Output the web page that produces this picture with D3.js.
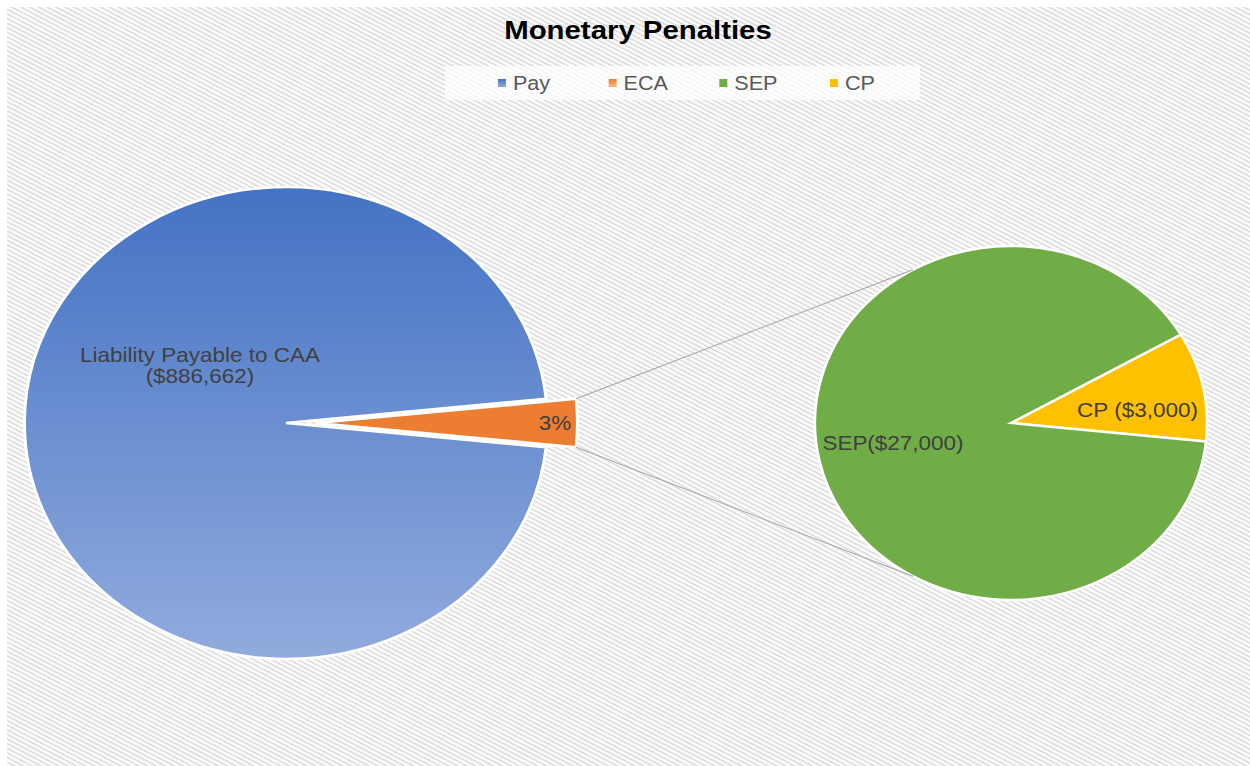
<!DOCTYPE html>
<html><head><meta charset="utf-8">
<script src="https://cdn.jsdelivr.net/npm/d3@7"></script>
<style>html,body{margin:0;padding:0;background:#fff;} svg{display:block;}</style>
</head><body>
<script>
// ---- data ----
const mainCategories = ["Pay", "ECA"];
const mainValues = [886662, 30000];
const mainLabels = ["Liability Payable to CAA\n($886,662)", "3%"];
const subCategories = ["CP", "SEP"];
const subValues = [3000, 27000];
const subLabels = ["CP ($3,000)", "SEP($27,000)"];
const legendLabels = ["Pay", "ECA", "SEP", "CP"];
const title = "Monetary Penalties";

// ---- layout (drawn in an unstretched space, then stretched horizontally) ----
const W = 1250, H = 766, SX = 1.108;
const W0 = W / SX;
const svg = d3.select("body").append("svg")
  .attr("width", W).attr("height", H)
  .attr("viewBox", `0 0 ${W0} ${H}`)
  .attr("preserveAspectRatio", "none");

const defs = svg.append("defs");
const pat = defs.append("pattern").attr("id", "hatch")
  .attr("patternUnits", "userSpaceOnUse").attr("width", 4).attr("height", 4)
  .attr("patternTransform", "rotate(30)");
pat.append("rect").attr("width", 4).attr("height", 4).attr("fill", "#fbfbfb");
pat.append("rect").attr("width", 4).attr("height", 1.6).attr("fill", "#dedede");

const r1 = 236;
const gBlue = defs.append("linearGradient").attr("id", "gBlue")
  .attr("gradientUnits", "userSpaceOnUse").attr("x1", 0).attr("y1", -r1).attr("x2", 0).attr("y2", r1);
gBlue.append("stop").attr("offset", "0%").attr("stop-color", "#4472C4");
gBlue.append("stop").attr("offset", "100%").attr("stop-color", "#91ABDD");

const gLegBlue = defs.append("linearGradient").attr("id", "gLegBlue").attr("x1", 0).attr("y1", 0).attr("x2", 0).attr("y2", 1);
gLegBlue.append("stop").attr("offset", "0%").attr("stop-color", "#4472C4");
gLegBlue.append("stop").attr("offset", "100%").attr("stop-color", "#8FAADC");
const gLegOr = defs.append("linearGradient").attr("id", "gLegOr").attr("x1", 0).attr("y1", 0).attr("x2", 0).attr("y2", 1);
gLegOr.append("stop").attr("offset", "0%").attr("stop-color", "#ED7D31");
gLegOr.append("stop").attr("offset", "100%").attr("stop-color", "#F8B888");

// background
svg.append("rect").attr("x", 7 / SX).attr("y", 7).attr("width", W0).attr("height", H)
  .attr("fill", "url(#hatch)");

const font = "Liberation Sans, Arial, sans-serif";

// title
svg.append("text").attr("x", 638 / SX).attr("y", 39).attr("text-anchor", "middle")
  .attr("font-family", font).attr("font-weight", "bold").attr("font-size", 26.5)
  .attr("fill", "#000").text(title);

// legend
const legColors = { Pay: "url(#gLegBlue)", ECA: "url(#gLegOr)", SEP: "#70AD47", CP: "#FFC000" };
svg.append("rect").attr("x", 445 / SX).attr("y", 66).attr("width", (920 - 445) / SX).attr("height", 34)
  .attr("fill", "#fff").attr("opacity", 0.72);
const legX = d3.scalePoint().domain(legendLabels).range([498 / SX, 830 / SX]);
const leg = svg.append("g").selectAll("g").data(legendLabels).join("g")
  .attr("transform", d => `translate(${legX(d)},0)`);
leg.append("rect").attr("x", 0).attr("y", 79).attr("width", 7.2).attr("height", 8)
  .attr("fill", d => legColors[d]);
leg.append("text").attr("x", 13.5).attr("y", 90).attr("font-family", font).attr("font-size", 19.5)
  .attr("fill", "#595959").text(d => d);

// main pie
const cx1 = 286 / SX, cy = 423;
const ecaAngle = 2 * Math.PI * mainValues[1] / d3.sum(mainValues);
const start1 = Math.PI / 2 + ecaAngle / 2;
const pie1 = d3.pie().sort(null).startAngle(start1).endAngle(start1 + 2 * Math.PI)(mainValues);
const arc1 = d3.arc().innerRadius(0).outerRadius(r1);
const explode = 27;
const main = svg.append("g").attr("transform", `translate(${cx1},${cy})`);
main.selectAll("path").data(pie1).join("path")
  .attr("d", arc1)
  .attr("transform", (d, i) => {
    if (i === 0) return null;
    const a = (d.startAngle + d.endAngle) / 2;
    return `translate(${explode * Math.sin(a)},${-explode * Math.cos(a)})`;
  })
  .attr("fill", (d, i) => i === 0 ? "url(#gBlue)" : "#ED7D31")
  .attr("stroke", "#fff").attr("stroke-width", 2.6).attr("stroke-linejoin", "miter");

// sub pie
const cx2 = 1011 / SX, r2 = 177;
const start2 = 60 * Math.PI / 180;
const pie2 = d3.pie().sort(null).startAngle(start2).endAngle(start2 + 2 * Math.PI)(subValues);
const arc2 = d3.arc().innerRadius(0).outerRadius(r2);
const sub = svg.append("g").attr("transform", `translate(${cx2},${cy})`);
sub.selectAll("path").data(pie2).join("path")
  .attr("d", arc2)
  .attr("fill", (d, i) => i === 0 ? "#FFC000" : "#70AD47")
  .attr("stroke", "#fff").attr("stroke-width", 2.4);

// connector lines
const eca = pie1[1];
const ea = (eca.startAngle + eca.endAngle) / 2;
const ox = cx1 + explode * Math.sin(ea), oy = cy - explode * Math.cos(ea);
const pTop = [ox + r1 * Math.sin(eca.startAngle), oy - r1 * Math.cos(eca.startAngle)];
const pBot = [ox + r1 * Math.sin(eca.endAngle), oy - r1 * Math.cos(eca.endAngle)];
const aT = -30 * Math.PI / 180, aB = 210 * Math.PI / 180;
const qTop = [cx2 + r2 * Math.sin(aT), cy - r2 * Math.cos(aT)];
const qBot = [cx2 + r2 * Math.sin(aB), cy - r2 * Math.cos(aB)];
svg.append("g").selectAll("line").data([[pTop, qTop], [pBot, qBot]]).join("line")
  .attr("x1", d => d[0][0]).attr("y1", d => d[0][1])
  .attr("x2", d => d[1][0]).attr("y2", d => d[1][1])
  .attr("stroke", "#a6a6a6").attr("stroke-width", 1);

// data labels
const lblFont = 20.3, lblColor = "#404040";
const mainLbl = svg.append("text").attr("font-family", font).attr("font-size", lblFont)
  .attr("fill", lblColor).attr("text-anchor", "middle");
mainLabels[0].split("\n").forEach((t, i) => {
  mainLbl.append("tspan").attr("x", 200 / SX).attr("y", 362 + i * 21.5).text(t);
});
svg.append("text").attr("x", 555 / SX).attr("y", 430).attr("text-anchor", "middle")
  .attr("font-family", font).attr("font-size", lblFont).attr("fill", lblColor).text(mainLabels[1]);
svg.append("text").attr("x", 1137.5 / SX).attr("y", 417).attr("text-anchor", "middle")
  .attr("font-family", font).attr("font-size", lblFont).attr("fill", lblColor).text(subLabels[0]);
svg.append("text").attr("x", 893 / SX).attr("y", 450).attr("text-anchor", "middle")
  .attr("font-family", font).attr("font-size", lblFont).attr("fill", lblColor).text(subLabels[1]);
</script>
</body></html>
